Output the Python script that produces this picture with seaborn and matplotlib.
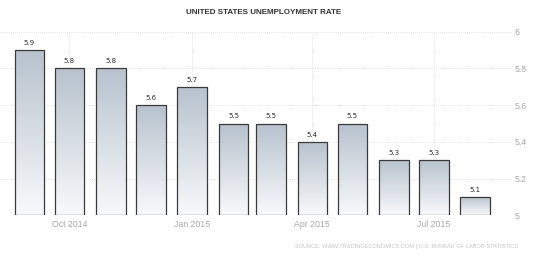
import numpy as np
import pandas as pd
import matplotlib
matplotlib.use('Agg')
import matplotlib.pyplot as plt
import matplotlib.dates as mdates
import seaborn as sns

# ── Data ──────────────────────────────────────────────────────────────────────
months = ['2014-09-01', '2014-10-01', '2014-11-01', '2014-12-01', '2015-01-01',
          '2015-02-01', '2015-03-01', '2015-04-01', '2015-05-01', '2015-06-01',
          '2015-07-01', '2015-08-01']
rates = [5.9, 5.8, 5.8, 5.6, 5.7, 5.5, 5.5, 5.4, 5.5, 5.3, 5.3, 5.1]
y_ticks = [5, 5.2, 5.4, 5.6, 5.8, 6]
x_ticks = ['2014-10-01', '2015-01-01', '2015-04-01', '2015-07-01']

base = 5.0
df = pd.DataFrame({'date': mdates.date2num(pd.to_datetime(months)), 'rate': rates})

# ── Style ─────────────────────────────────────────────────────────────────────
sns.set_style('white')
plt.rcParams['font.family'] = ['Liberation Sans', 'DejaVu Sans']

fig = plt.figure(figsize=(5.4, 2.57), dpi=100)
ax = fig.add_axes([0.0, 0.1615, 0.948, 0.7152])

sns.barplot(data=df, x='date', y='rate', native_scale=True, width=0.79,
            color='#c0c9d3', edgecolor='#3a3a3a', linewidth=0.9, ax=ax,
            errorbar=None)

# bars start at the 5% baseline, filled with a vertical gradient
grad = np.linspace(0, 1, 256).reshape(-1, 1)
cmap = matplotlib.colors.LinearSegmentedColormap.from_list(
    'bar', ['#f8f9fb', '#b7c2cd'])
container = ax.containers[0]
for p in container.patches:
    top = p.get_y() + p.get_height()
    p.set_y(base)
    p.set_height(top - base)
    p.set_facecolor('none')
    p.set_zorder(3)
    x0 = p.get_x()
    im = ax.imshow(grad, cmap=cmap, origin='lower', aspect='auto',
                   extent=(x0, x0 + p.get_width(), base, top), zorder=2)
    im.set_clip_path(p)

ax.bar_label(container, labels=[f'{v:.1f}' for v in rates], padding=3,
             fontsize=5.0, color='#2a2a2a', family='DejaVu Sans')

# ── Axes ──────────────────────────────────────────────────────────────────────
x_num = mdates.date2num(pd.to_datetime(months))
ax.set_xlim(x_num[0] - 22, x_num[0] + 361.5)
ax.set_ylim(base, 6)
ax.set_yticks(y_ticks)
ax.set_yticklabels(['5', '5.2', '5.4', '5.6', '5.8', '6'])
ax.yaxis.tick_right()
ax.set_xticks(mdates.date2num(pd.to_datetime(x_ticks)))
ax.xaxis.set_major_formatter(mdates.DateFormatter('%b %Y'))
ax.tick_params(axis='both', length=0, labelsize=6.3, labelcolor='#a8a8a8')
ax.tick_params(axis='y', pad=2)
ax.tick_params(axis='x', pad=3.5)
ax.grid(True, color='#d8d8d8', linestyle=(0, (1, 1.5)), linewidth=0.6, zorder=0)
ax.set_axisbelow(True)
for s in ax.spines.values():
    s.set_visible(False)
ax.set_xlabel('')
ax.set_ylabel('')

fig.text(0.488, 0.951, 'UNITED STATES UNEMPLOYMENT RATE', ha='center', va='center',
         fontsize=5.8, fontweight='bold', color='#333333')
fig.text(0.959, 0.039, 'SOURCE: WWW.TRADINGECONOMICS.COM | U.S. BUREAU OF LABOR STATISTICS',
         ha='right', va='center', fontsize=4.1, color='#c4c4c4')

plt.savefig('out.png', dpi=100)
plt.close()
